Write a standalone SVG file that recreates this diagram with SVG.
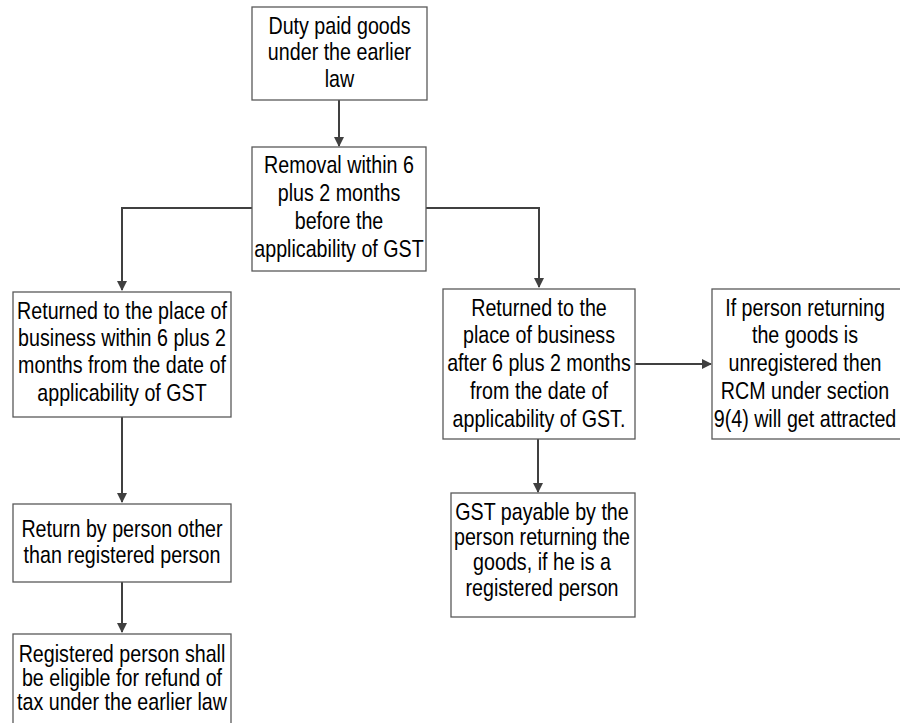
<svg xmlns="http://www.w3.org/2000/svg" width="900" height="723" viewBox="0 0 900 723">
<defs>
<marker id="ah" markerWidth="10" markerHeight="10" refX="9" refY="5" orient="auto" markerUnits="userSpaceOnUse">
<path d="M0,0 L10,5 L0,10 Z" fill="#404040"/>
</marker>
<style>
.box{fill:#fff;stroke:#595959;stroke-width:1.3}
.t{font-family:"Liberation Sans",Arial,sans-serif;font-size:24px;fill:#000;text-anchor:middle}
.c{fill:none;stroke:#404040;stroke-width:2;marker-end:url(#ah)}
</style>
</defs>
<rect width="900" height="723" fill="#fff"/>
<g id="connectors">
<path class="c" d="M339,100 V146"/>
<path class="c" d="M252,208 H122 V290"/>
<path class="c" d="M426,208 H539 V287"/>
<path class="c" d="M122,417 V502"/>
<path class="c" d="M122,582 V632"/>
<path class="c" d="M635,364 H711"/>
<path class="c" d="M538,439 V492"/>
</g>
<g id="n1"><rect class="box" x="252" y="7" width="175" height="93"/>
<text class="t" transform="translate(339.5,0) scale(0.82,1)"><tspan x="0" y="34">Duty paid goods</tspan><tspan x="0" y="60">under the earlier</tspan><tspan x="0" y="87">law</tspan></text></g>
<g id="n2"><rect class="box" x="252" y="147" width="174" height="124"/>
<text class="t" transform="translate(339,0) scale(0.82,1)"><tspan x="0" y="173">Removal within 6</tspan><tspan x="0" y="201">plus 2 months</tspan><tspan x="0" y="229">before the</tspan><tspan x="0" y="257">applicability of GST</tspan></text></g>
<g id="n3"><rect class="box" x="13" y="292" width="218" height="125"/>
<text class="t" transform="translate(122,0) scale(0.82,1)"><tspan x="0" y="319">Returned to the place of</tspan><tspan x="0" y="346">business within 6 plus 2</tspan><tspan x="0" y="373">months from the date of</tspan><tspan x="0" y="401">applicability of GST</tspan></text></g>
<g id="n4"><rect class="box" x="443" y="289" width="192" height="150"/>
<text class="t" transform="translate(539,0) scale(0.82,1)"><tspan x="0" y="316">Returned to the</tspan><tspan x="0" y="343">place of business</tspan><tspan x="0" y="371">after 6 plus 2 months</tspan><tspan x="0" y="399">from the date of</tspan><tspan x="0" y="427">applicability of GST.</tspan></text></g>
<g id="n5"><rect class="box" x="712" y="289" width="195" height="150"/>
<text class="t" transform="translate(805,0) scale(0.82,1)"><tspan x="0" y="316">If person returning</tspan><tspan x="0" y="343">the goods is</tspan><tspan x="0" y="371">unregistered then</tspan><tspan x="0" y="399">RCM under section</tspan><tspan x="0" y="427">9(4) will get attracted</tspan></text></g>
<g id="n6"><rect class="box" x="13" y="504" width="218" height="78"/>
<text class="t" transform="translate(122,0) scale(0.82,1)"><tspan x="0" y="537">Return by person other</tspan><tspan x="0" y="563">than registered person</tspan></text></g>
<g id="n7"><rect class="box" x="13" y="634" width="218" height="100"/>
<text class="t" transform="translate(122,0) scale(0.82,1)"><tspan x="0" y="662">Registered person shall</tspan><tspan x="0" y="686">be eligible for refund of</tspan><tspan x="0" y="710">tax under the earlier law</tspan></text></g>
<g id="n8"><rect class="box" x="451" y="493" width="184" height="124"/>
<text class="t" transform="translate(542,0) scale(0.82,1)"><tspan x="0" y="520">GST payable by the</tspan><tspan x="0" y="545">person returning the</tspan><tspan x="0" y="570">goods, if he is a</tspan><tspan x="0" y="596">registered person</tspan></text></g>
</svg>
